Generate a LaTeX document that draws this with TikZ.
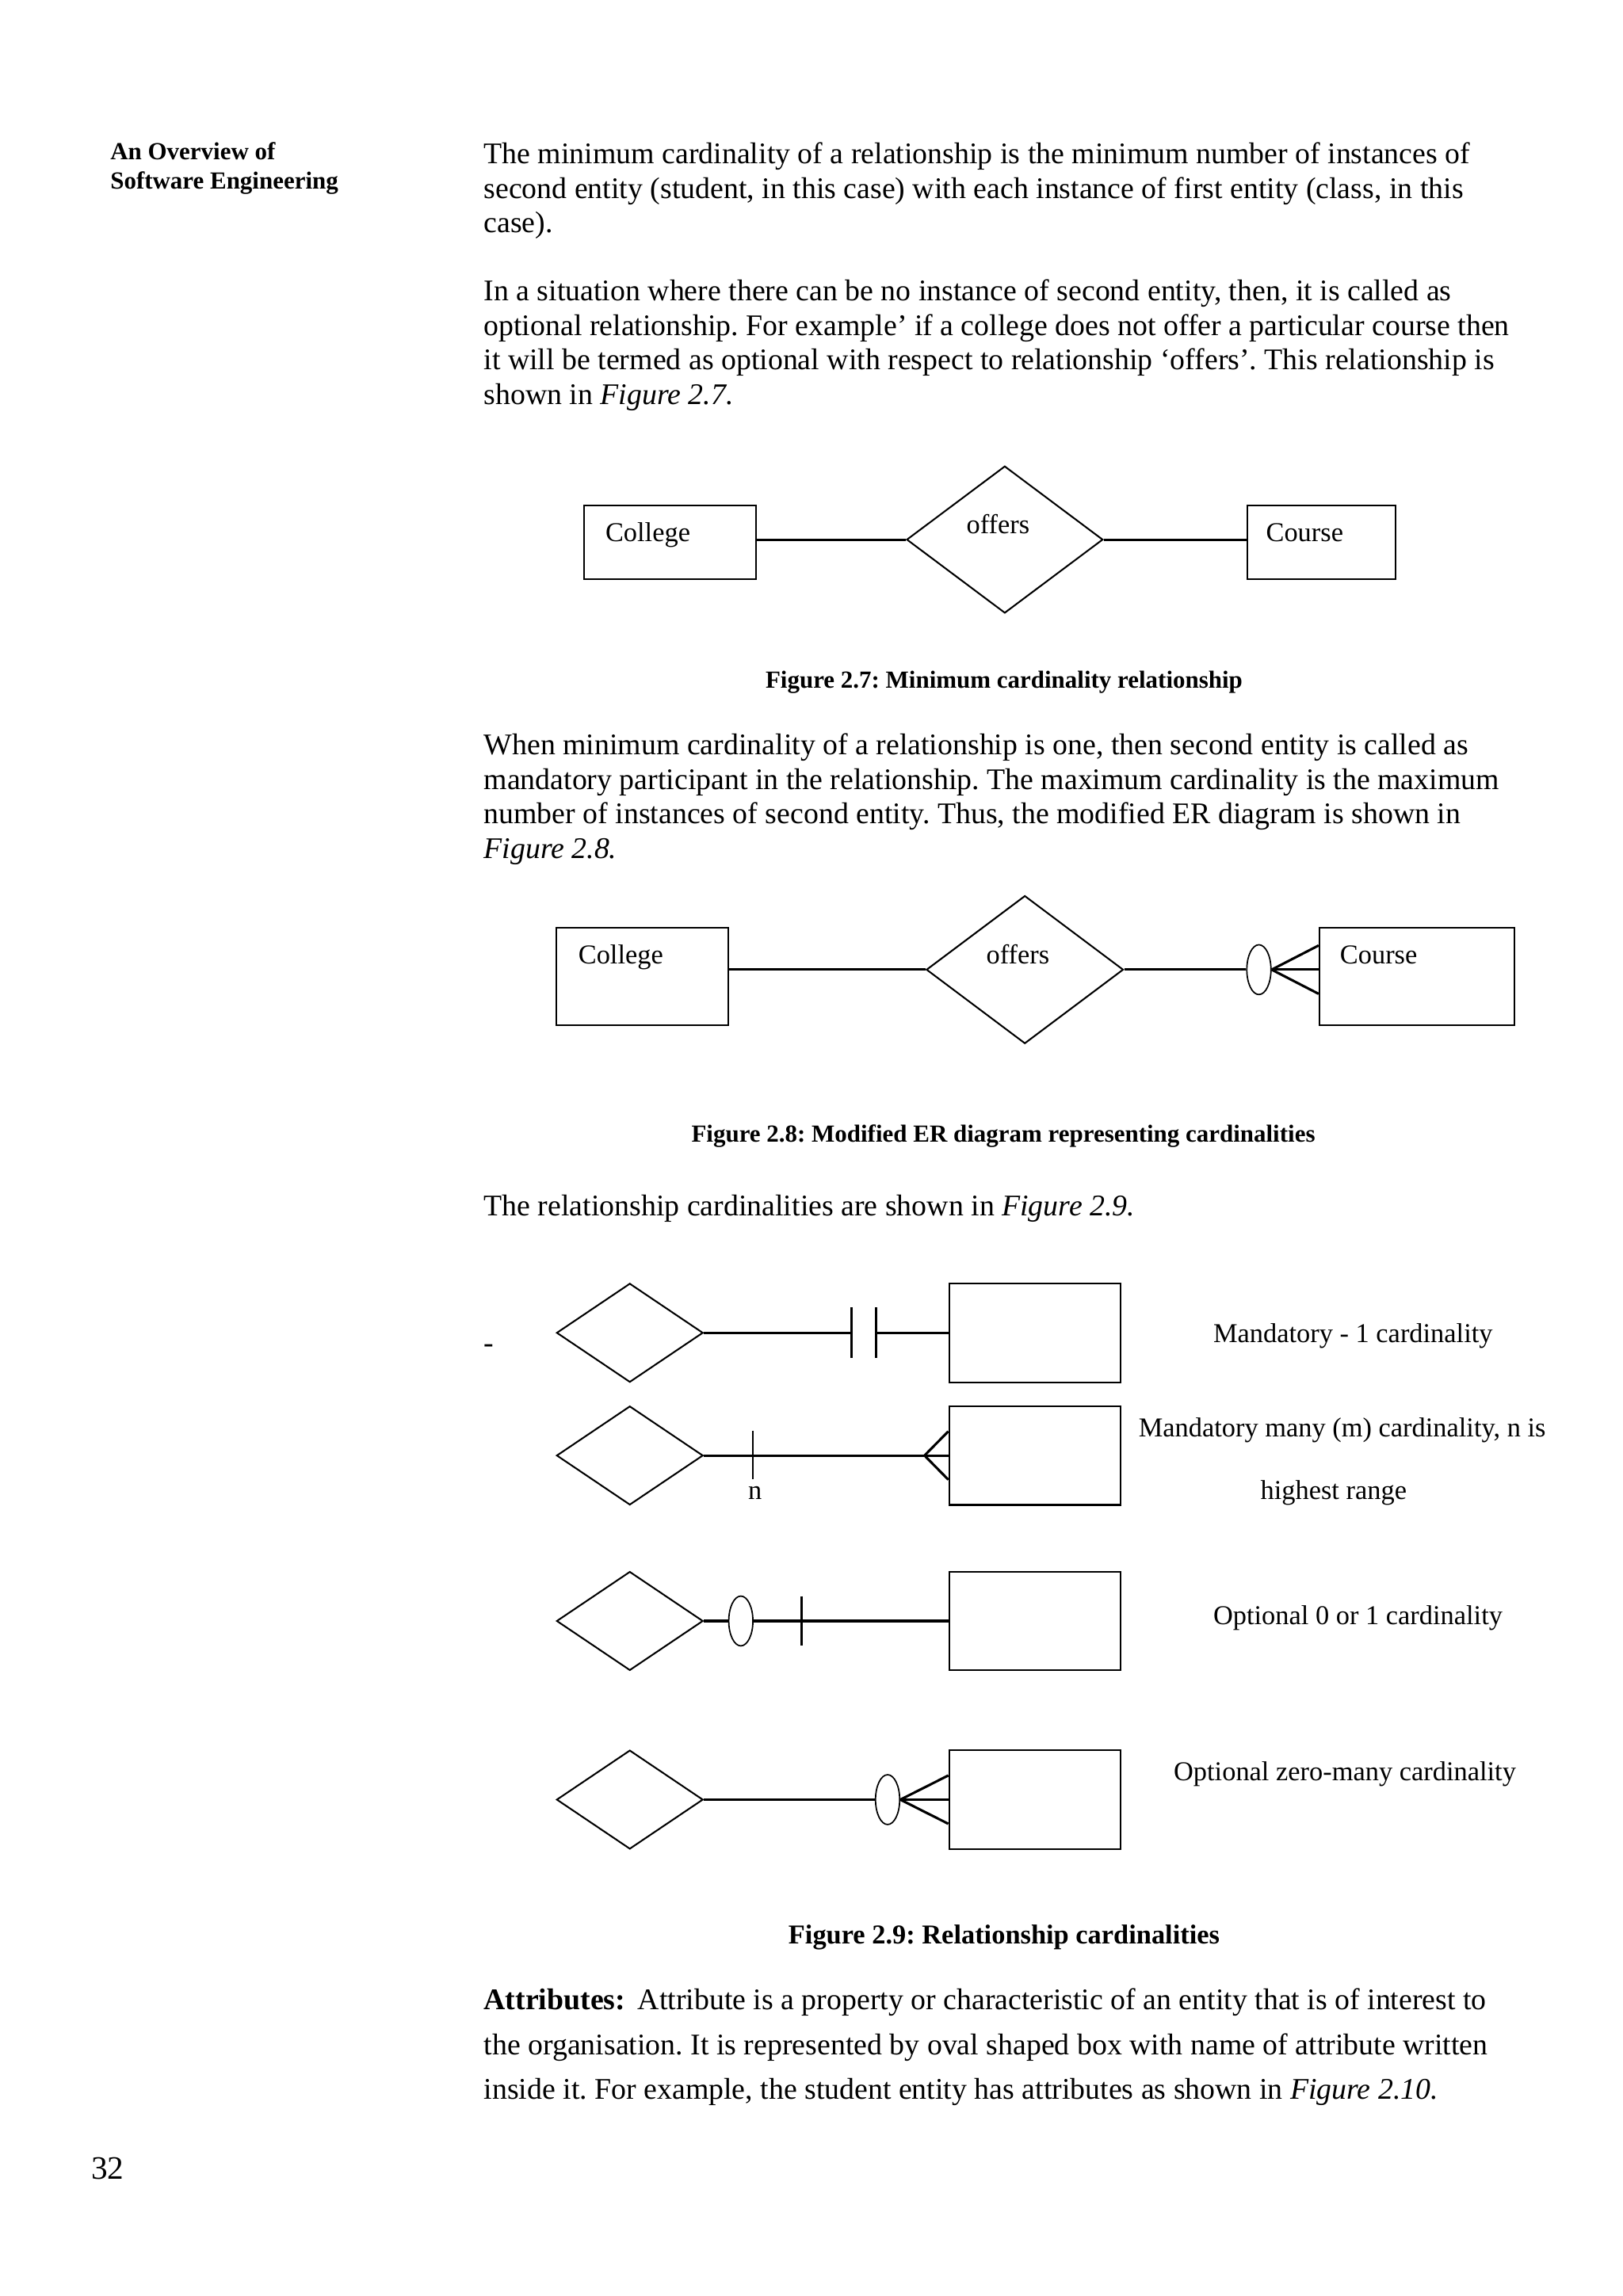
\documentclass[tikz,border=0pt]{standalone}
\usepackage{fontspec}
\setmainfont{Liberation Serif}
\usetikzlibrary{shapes.geometric,calc}
\newcommand{\pxu}{0.5372pt}
\frenchspacing

\begin{document}
\begin{tikzpicture}[x=\pxu,y=-\pxu]
        \tikzstyle{txt}=[anchor=base west, inner sep=0pt, font=\fontsize{11}{13}\selectfont]
        \tikzstyle{side}=[anchor=base west, inner sep=0pt, font=\fontsize{9}{11}\selectfont\bfseries]
        \tikzstyle{lbl}=[anchor=base west, inner sep=0pt, font=\fontsize{10}{12}\selectfont]
        \tikzstyle{figcap}=[anchor=base, inner sep=0pt, font=\fontsize{9}{11}\selectfont\bfseries]
        \tikzstyle{ent}=[rectangle, draw, line width=0.6pt, inner sep=0pt]
        \tikzstyle{rel}=[diamond, draw, line width=0.6pt, inner sep=0pt]
        \tikzstyle{optl}=[ellipse, draw, fill=white, line width=0.5pt, inner sep=0pt, minimum width=16.5*\pxu, minimum height=34*\pxu]
        \tikzstyle{link}=[line width=0.9pt]
        \tikzstyle{tick}=[line width=0.8pt]
        \useasboundingbox (0,0) rectangle (1108,1568);
        \node[side] (head1) at (75,109) {An Overview of};
        \node[side] (head2) at (75,129) {Software Engineering};
        \node[txt] (p1a) at (330,112) {The minimum cardinality of a relationship is the minimum number of instances of};
        \node[txt] (p1b) at (330,135.5) {second entity (student, in this case) with each instance of first entity (class, in this};
        \node[txt] (p1c) at (330,159) {case).};
        \node[txt] (p2a) at (330,205.5) {In a situation where there can be no instance of second entity, then, it is called as};
        \node[txt] (p2b) at (330,229) {optional relationship. For example’ if a college does not offer a particular course then};
        \node[txt] (p2c) at (330,252.5) {it will be termed as optional with respect to relationship ‘offers’. This relationship is};
        \node[txt] (p2d) at (330,276) {shown in \textit{Figure 2.7.}};
        \node[ent, minimum width=117.4*\pxu, minimum height=50.2*\pxu] (college7) at (457.3,370.4) {};
        \node[rel, minimum width=134*\pxu, minimum height=100.4*\pxu] (offers7) at (686,368.5) {};
        \node[ent, minimum width=101*\pxu, minimum height=50.2*\pxu] (course7) at (902.2,370.4) {};
        \node[lbl] (tcollege7) at (413,370) {College};
        \node[lbl] (toffers7) at (659.5,364.3) {offers};
        \node[lbl] (tcourse7) at (864,370) {Course};
        \draw[link] (offers7.west) -- (offers7.west -| college7.east);
        \draw[link] (offers7.east) -- (offers7.east -| course7.west);
        \node[figcap] (cap7) at (685.5,469.8) {Figure 2.7: Minimum cardinality relationship};
        \node[txt] (p3a) at (330,515.5) {When minimum cardinality of a relationship is one, then second entity is called as};
        \node[txt] (p3b) at (330,539) {mandatory participant in the relationship. The maximum cardinality is the maximum};
        \node[txt] (p3c) at (330,562.5) {number of instances of second entity. Thus, the modified ER diagram is shown in};
        \node[txt] (p3d) at (330,586) {\textit{Figure 2.8.}};
        \node[ent, minimum width=117.5*\pxu, minimum height=66.7*\pxu] (college8) at (438.7,666.7) {};
        \node[rel, minimum width=134.5*\pxu, minimum height=101*\pxu] (offers8) at (699.7,662.2) {};
        \node[ent, minimum width=133*\pxu, minimum height=66.7*\pxu] (course8) at (967.3,666.7) {};
        \node[optl] (oval8) at (859.5,662.2) {};
        \node[lbl] (tcollege8) at (394.5,658) {College};
        \node[lbl] (toffers8) at (673,658) {offers};
        \node[lbl] (tcourse8) at (914.5,658) {Course};
        \draw[link] (offers8.west) -- (offers8.west -| college8.east);
        \draw[link] (offers8.east) -- (oval8.west);
        \draw[link] (oval8.east) -- (oval8.east -| course8.west);
        \draw[link] (oval8.east) -- ($(oval8.east -| course8.west)+(0,-16.5)$);
        \draw[link] (oval8.east) -- ($(oval8.east -| course8.west)+(0,16.5)$);
        \node[figcap] (cap8) at (685,780) {Figure 2.8: Modified ER diagram representing cardinalities};
        \node[txt] (p4a) at (330,830) {The relationship cardinalities are shown in \textit{Figure 2.9.}};
        \foreach \r/\y in {1/910.2,2/994,3/1107,4/1229} {
            \node[rel, minimum width=100*\pxu, minimum height=67.5*\pxu] (r\r) at (430,\y) {};
            \node[ent, minimum width=117*\pxu, minimum height=67.5*\pxu] (e\r) at (706.5,\y) {};
        }
        \node[txt] (dash) at (330,924) {-};
        \coordinate (bar1a) at (581.2,910.2);
        \coordinate (bar1b) at (598,910.2);
        \draw[link] (r1.east) -- (bar1a);
        \draw[link] (bar1b) -- (e1.west);
        \draw[tick] ($(bar1a)+(0,-17.2)$) -- ($(bar1a)+(0,17.2)$);
        \draw[tick] ($(bar1b)+(0,-17.2)$) -- ($(bar1b)+(0,17.2)$);
        \coordinate (foot2) at (631.2,994);
        \draw[link] (r2.east) -- (e2.west);
        \draw[link] (foot2) -- ($(e2.west)+(0,-16.5)$);
        \draw[link] (foot2) -- ($(e2.west)+(0,16.5)$);
        \draw[tick] (514,977) -- (514,1010);
        \node[lbl, anchor=base] (n2) at (515.5,1024) {n};
        \node[optl] (o3) at (505.8,1107) {};
        \draw[link] (r3.east) -- (o3.west);
        \draw[link] (o3.east) -- (e3.west);
        \draw[tick] (547.3,1090) -- (547.3,1124);
        \node[optl] (o4) at (606,1229) {};
        \draw[link] (r4.east) -- (o4.west);
        \draw[link] (o4.east) -- (e4.west);
        \draw[link] (o4.east) -- ($(e4.west)+(0,-16.5)$);
        \draw[link] (o4.east) -- ($(e4.west)+(0,16.5)$);
        \node[lbl] (l1) at (828,917) {Mandatory - 1 cardinality};
        \node[lbl] (l2a) at (777,981) {Mandatory many (m) cardinality, n is};
        \node[lbl, anchor=base] (l2b) at (910.5,1024) {highest range};
        \node[lbl] (l3) at (828,1109.5) {Optional 0 or 1 cardinality};
        \node[lbl] (l4) at (801,1216) {Optional zero-many cardinality};
        \node[figcap, font=\fontsize{10}{12}\selectfont\bfseries] (cap9) at (685.5,1327.3) {Figure 2.9: Relationship cardinalities};
        \node[txt] (p5a) at (330,1372.4) {\textbf{Attributes:}\hspace{4.5pt}Attribute is a property or characteristic of an entity that is of interest to};
        \node[txt] (p5b) at (330,1403) {the organisation. It is represented by oval shaped box with name of attribute written};
        \node[txt] (p5c) at (330,1433.3) {inside it. For example, the student entity has attributes as shown in \textit{Figure 2.10.}};
        \node[txt, font=\fontsize{12}{14}\selectfont] (pageno) at (62,1488) {32};
      \end{tikzpicture}
\end{document}
